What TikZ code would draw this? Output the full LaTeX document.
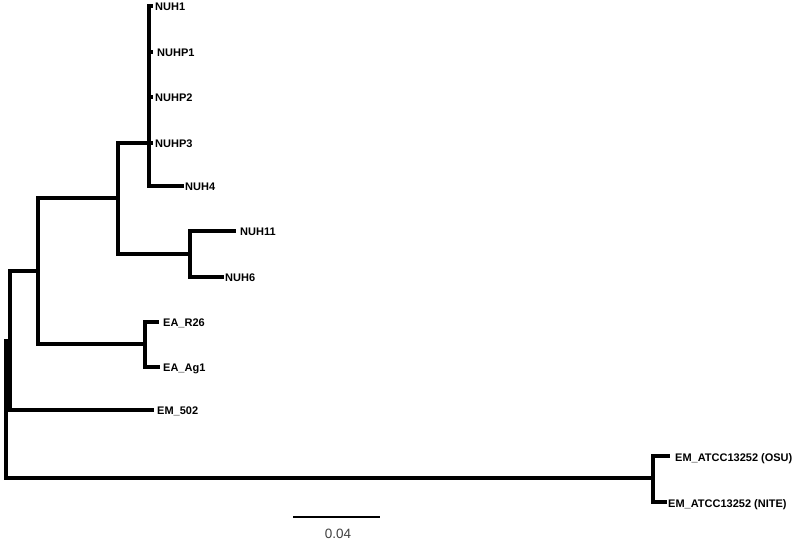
\documentclass[tikz,border=0pt]{standalone}
\usepackage{fontspec}
\setmainfont{Liberation Sans}
\begin{document}
\begin{tikzpicture}[x=1pt,y=-1pt,
  branch/.style={line width=3.2pt,line cap=rect,line join=miter},
  leaf/.style={anchor=base west,inner sep=0pt,yshift=-4pt,font=\fontsize{11}{13}\selectfont\bfseries},
  scalebar/.style={line width=2.2pt},
  scalelabel/.style={inner sep=0pt,font=\fontsize{13.5}{15}\selectfont,text=black!75}]
\useasboundingbox (0,0) rectangle (800,542);
% internal nodes
\coordinate (root) at (6,409);
\coordinate (A) at (10,341);
\coordinate (B) at (38,271);
\coordinate (C) at (118,198);
\coordinate (D) at (149,143);
\coordinate (E) at (190,254);
\coordinate (F) at (145,344);
\coordinate (G) at (653,478);
% tips
\coordinate (tNUH1) at (151,6);
\coordinate (tNUHP1) at (151,52);
\coordinate (tNUHP2) at (151,97);
\coordinate (tNUHP3) at (151,143);
\coordinate (tNUH4) at (182,186);
\coordinate (tNUH11) at (234,231);
\coordinate (tNUH6) at (222,277);
\coordinate (tR26) at (157,322);
\coordinate (tAg1) at (158,367);
\coordinate (t502) at (152,410);
\coordinate (tOSU) at (668,456);
\coordinate (tNITE) at (665,502);
% labels
\node[leaf] (NUH1) at (155,6) {NUH1};
\node[leaf] (NUHP1) at (157,52) {NUHP1};
\node[leaf] (NUHP2) at (155,97) {NUHP2};
\node[leaf] (NUHP3) at (155,143) {NUHP3};
\node[leaf] (NUH4) at (185,186) {NUH4};
\node[leaf] (NUH11) at (240,231) {NUH11};
\node[leaf] (NUH6) at (225,277) {NUH6};
\node[leaf] (R26) at (163,322) {EA\_R26};
\node[leaf] (Ag1) at (163,367) {EA\_Ag1};
\node[leaf] (EM502) at (157,410) {EM\_502};
\node[leaf] (OSU) at (675,457) {EM\_ATCC13252 (OSU)};
\node[leaf] (NITE) at (668,503) {EM\_ATCC13252 (NITE)};
% branches
\draw[branch] (root) |- (A);
\draw[branch] (root) |- (G);
\draw[branch] (A) |- (B);
\draw[branch] (A) |- (t502);
\draw[branch] (B) |- (C);
\draw[branch] (B) |- (F);
\draw[branch] (C) |- (D);
\draw[branch] (C) |- (E);
\draw[branch] (D) |- (tNUH1);
\draw[branch] (D) |- (tNUHP1);
\draw[branch] (D) |- (tNUHP2);
\draw[branch] (D) -- (tNUHP3);
\draw[branch] (D) |- (tNUH4);
\draw[branch] (E) |- (tNUH11);
\draw[branch] (E) |- (tNUH6);
\draw[branch] (F) |- (tR26);
\draw[branch] (F) |- (tAg1);
\draw[branch] (G) |- (tOSU);
\draw[branch] (G) |- (tNITE);
% scale bar
\coordinate (s1) at (293,517);
\coordinate (s2) at (380,517);
\draw[scalebar] (s1) -- (s2);
\node[scalelabel] (scale) at (338,533.5) {0.04};
\end{tikzpicture}
\end{document}
